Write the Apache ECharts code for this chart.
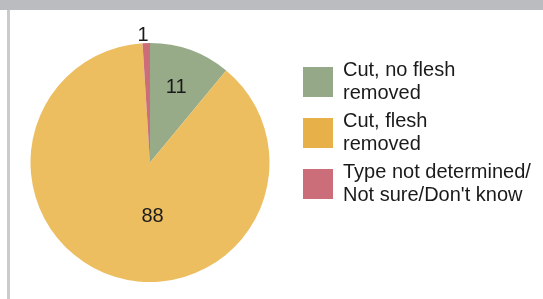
<!DOCTYPE html>
<html>
<head>
<meta charset="utf-8">
<script src="https://cdn.jsdelivr.net/npm/echarts@6/dist/echarts.min.js"></script>
<style>
  html, body { margin: 0; padding: 0; background: #fff; }
  #frame { position: relative; width: 543px; height: 299px; overflow: hidden; }
  #topBand { position: absolute; left: 0; top: 0; width: 543px; height: 10px; background: #bbbcc0; }
  #leftLine { position: absolute; left: 7px; top: 10px; width: 3px; height: 289px; background: #cbcbcd; }
  #pieChart { position: absolute; left: 0; top: 0; width: 543px; height: 299px; }
</style>
</head>
<body>
<div id="frame">
  <div id="pieChart"></div>
  <div id="topBand"></div>
  <div id="leftLine"></div>
</div>
<script>
// chart data
var categories = ["Cut, no flesh removed", "Cut, flesh removed", "Type not determined/Not sure/Don't know"];
var legendLabels = ["Cut, no flesh\nremoved", "Cut, flesh\nremoved", "Type not determined/\nNot sure/Don't know"];
var values = [11, 88, 1];

var colors = ["#97ab89", "#ecbe60", "#cc6e7a"];
var legendColors = ["#95a988", "#e7b049", "#cc6e79"];

var myChart = echarts.init(document.getElementById("pieChart"));

// nudges so labels sit where the original put them
var labelOffsets = [[5, -16], [22, -6], [-5, -64]];

var pieData = values.map(function(v, i) {
  return {
    name: categories[i],
    value: v,
    itemStyle: { color: colors[i] },
    label: { offset: labelOffsets[i] }
  };
});

var legendData = categories.map(function(c, i) {
  return { name: c, itemStyle: { color: legendColors[i] } };
});

var option = {
  animation: false,
  legend: {
    orient: "vertical",
    left: 303,
    top: 59,
    padding: 0,
    itemWidth: 30,
    itemHeight: 30,
    itemGap: 5,
    icon: "rect",
    selectedMode: false,
    data: legendData,
    formatter: function(name) {
      return legendLabels[categories.indexOf(name)];
    },
    textStyle: {
      color: "#1a1a1a",
      fontFamily: "Liberation Sans, Arial, sans-serif",
      fontSize: 20,
      lineHeight: 23,
      padding: [0, 0, 0, 5]
    }
  },
  series: [
    {
      type: "pie",
      center: [150, 162.5],
      radius: [0, 119.5],
      startAngle: 90,
      clockwise: true,
      avoidLabelOverlap: false,
      emphasis: { disabled: true },
      itemStyle: { borderWidth: 0 },
      label: {
        show: true,
        position: "inside",
        formatter: "{c}",
        color: "#1a1a1a",
        fontFamily: "Liberation Sans, Arial, sans-serif",
        fontSize: 20
      },
      labelLine: { show: false },
      data: pieData
    }
  ]
};

myChart.setOption(option);
</script>
</body>
</html>
